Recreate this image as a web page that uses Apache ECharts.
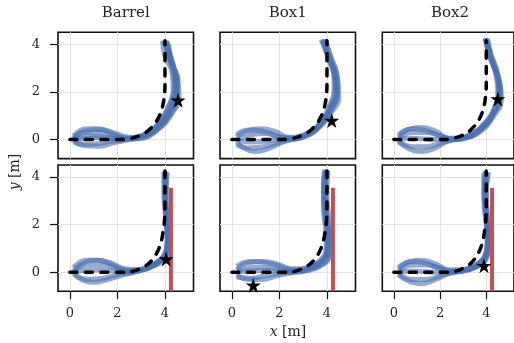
<!DOCTYPE html>
<html>
<head>
<meta charset="utf-8">
<script src="https://cdn.jsdelivr.net/npm/echarts@6/dist/echarts.min.js"></script>
<style>html,body{margin:0;padding:0;background:#fff;}#c{width:514px;height:343px;}</style>
</head>
<body>
<div id="c"></div>
<script>
// ---------- data ----------
const titles = ['Barrel', 'Box1', 'Box2'];
const xTicks = [0, 2, 4];
const yTicks = [0, 2, 4];
const xRange = [-0.5, 5.2];
const yRange = [-0.8, 4.5];

// reference paths (dashed)
const refTop = [[0,0],[2.2,0],[2.7,0.08],[3.2,0.3],[3.6,0.7],[3.85,1.2],[3.97,1.8],[4.0,2.3],[4.0,3.2],[4.0,4.15]];
const refBottom = [[0,0],[2.4,0],[2.9,0.12],[3.3,0.35],[3.6,0.7],[3.82,1.2],[3.95,1.9],[4.0,2.6],[4.0,3.4],[4.0,4.25]];

// executed trajectories (blue)
const trajBarrelTop = [
  [[0.15,0.05],[0.6,0.35],[1.2,0.42],[1.8,0.3],[2.5,0.1],[3.2,0.2],[3.8,0.6],[4.25,1.2],[4.5,1.9],[4.45,2.7],[4.2,3.4],[4.05,4.1]],
  [[0.15,-0.05],[0.6,-0.25],[1.2,-0.28],[1.8,-0.15],[2.5,0.0],[3.2,0.15],[3.8,0.5],[4.3,1.1],[4.6,1.8],[4.5,2.6],[4.25,3.3],[4.1,4.1]],
  [[0.2,0.1],[0.7,0.3],[1.3,0.3],[1.9,0.15],[2.5,0.05],[3.2,0.25],[3.7,0.65],[4.1,1.3],[4.35,2.0],[4.3,2.8],[4.0,3.5],[3.9,4.15]],
  [[0.2,-0.1],[0.7,-0.2],[1.3,-0.15],[1.9,-0.05],[2.6,0.05],[3.3,0.3],[3.85,0.8],[4.2,1.5],[4.4,2.3],[4.3,3.0],[4.1,3.7],[4.0,4.1]],
  [[0.1,0.0],[0.8,0.15],[1.5,0.1],[2.2,0.02],[2.9,0.1],[3.5,0.4],[4.0,0.95],[4.35,1.6],[4.5,2.4],[4.35,3.1],[4.15,3.8],[4.05,4.15]],
  [[0.15,0.15],[0.7,0.45],[1.2,0.45],[1.8,0.25],[2.4,0.05],[3.0,0.05],[3.6,0.35],[4.15,0.95],[4.5,1.7],[4.55,2.5],[4.3,3.2],[4.15,4.0]],
  [[0.15,0.0],[0.7,0.05],[1.3,0.08],[1.9,0.05],[2.6,0.02],[3.3,0.2],[3.9,0.7],[4.3,1.4],[4.45,2.1],[4.4,2.9],[4.15,3.6],[3.95,4.15]]
];
const trajBox1Top = [
  [[0.2,0.1],[0.6,0.35],[1.2,0.45],[1.8,0.35],[2.4,0.1],[3.0,0.2],[3.6,0.55],[4.1,1.2],[4.4,1.9],[4.35,2.6],[4.1,3.3],[3.85,4.2]],
  [[0.2,-0.1],[0.6,-0.4],[1.0,-0.5],[1.6,-0.35],[2.3,-0.05],[3.0,0.1],[3.6,0.45],[4.15,1.1],[4.5,1.8],[4.45,2.6],[4.2,3.3],[3.95,4.15]],
  [[0.25,0.0],[0.8,0.2],[1.4,0.25],[2.0,0.1],[2.6,0.05],[3.2,0.25],[3.75,0.7],[4.15,1.4],[4.35,2.2],[4.25,2.9],[4.0,3.6],[3.75,4.2]],
  [[0.2,-0.2],[0.7,-0.35],[1.3,-0.3],[1.9,-0.15],[2.5,0.0],[3.1,0.15],[3.7,0.55],[4.2,1.25],[4.45,2.0],[4.4,2.8],[4.15,3.5],[3.9,4.2]],
  [[0.2,0.2],[0.7,0.4],[1.3,0.35],[1.9,0.15],[2.5,0.05],[3.1,0.2],[3.65,0.6],[4.05,1.3],[4.3,2.1],[4.3,2.8],[4.05,3.5],[3.8,4.15]],
  [[0.2,0.0],[0.7,-0.1],[1.3,-0.08],[1.9,0.0],[2.5,0.02],[3.1,0.18],[3.7,0.6],[4.1,1.25],[4.4,2.0],[4.35,2.7],[4.1,3.4],[3.85,4.15]]
];
const trajBox2Top = [
  [[0.2,0.1],[0.7,0.45],[1.2,0.5],[1.8,0.35],[2.4,0.05],[3.1,0.1],[3.7,0.4],[4.25,1.0],[4.6,1.8],[4.5,2.6],[4.2,3.4],[4.0,4.2]],
  [[0.2,-0.1],[0.7,-0.4],[1.2,-0.5],[1.8,-0.35],[2.4,-0.05],[3.1,0.05],[3.75,0.35],[4.3,0.95],[4.65,1.7],[4.55,2.5],[4.25,3.3],[4.05,4.2]],
  [[0.25,0.05],[0.8,0.3],[1.4,0.3],[2.0,0.15],[2.6,0.0],[3.2,0.15],[3.8,0.55],[4.3,1.2],[4.5,2.0],[4.4,2.8],[4.15,3.5],[3.95,4.25]],
  [[0.2,-0.05],[0.8,-0.3],[1.4,-0.3],[2.0,-0.15],[2.6,0.0],[3.3,0.2],[3.85,0.6],[4.35,1.3],[4.55,2.1],[4.45,2.9],[4.2,3.6],[4.05,4.2]],
  [[0.2,0.2],[0.8,0.45],[1.3,0.4],[1.9,0.2],[2.5,0.02],[3.2,0.1],[3.8,0.45],[4.3,1.1],[4.55,1.9],[4.45,2.7],[4.15,3.5],[3.95,4.25]],
  [[0.2,0.0],[0.8,0.05],[1.4,0.02],[2.0,0.0],[2.6,0.0],[3.25,0.15],[3.85,0.5],[4.35,1.15],[4.6,1.95],[4.5,2.75],[4.2,3.5],[4.0,4.25]]
];
const trajBarrelBottom = [
  [[0.15,0.05],[0.6,0.4],[1.1,0.5],[1.7,0.4],[2.3,0.15],[2.9,0.1],[3.5,0.3],[3.95,0.7],[4.1,1.3],[4.05,2.2],[4.0,3.2],[4.0,4.2]],
  [[0.15,-0.05],[0.6,-0.35],[1.0,-0.42],[1.6,-0.3],[2.3,-0.1],[2.9,0.05],[3.5,0.25],[4.0,0.6],[4.15,1.2],[4.1,2.2],[4.05,3.2],[4.05,4.2]],
  [[0.2,0.1],[0.8,0.3],[1.4,0.3],[2.0,0.15],[2.6,0.05],[3.2,0.2],[3.7,0.45],[4.05,0.9],[4.1,1.6],[4.0,2.6],[3.95,3.5],[3.95,4.2]],
  [[0.2,-0.1],[0.8,-0.3],[1.4,-0.25],[2.0,-0.1],[2.6,0.0],[3.2,0.15],[3.75,0.4],[4.1,0.8],[4.15,1.5],[4.05,2.5],[4.0,3.4],[4.0,4.25]],
  [[0.15,0.2],[0.7,0.5],[1.2,0.5],[1.8,0.3],[2.4,0.08],[3.0,0.12],[3.6,0.35],[4.0,0.75],[4.1,1.4],[4.05,2.3],[4.05,3.3],[4.1,4.2]],
  [[0.15,0.0],[0.7,0.08],[1.3,0.1],[1.9,0.05],[2.5,0.02],[3.1,0.12],[3.65,0.4],[4.05,0.85],[4.12,1.5],[4.05,2.4],[4.0,3.3],[4.0,4.2]]
];
const trajBox1Bottom = [
  [[0.2,0.1],[0.7,0.4],[1.3,0.45],[1.9,0.35],[2.5,0.15],[3.1,0.15],[3.6,0.35],[3.95,0.75],[4.05,1.4],[3.95,2.4],[3.9,3.4],[3.95,4.3]],
  [[0.2,-0.1],[0.7,-0.3],[1.3,-0.3],[1.9,-0.15],[2.5,-0.02],[3.1,0.05],[3.7,0.25],[4.05,0.6],[4.1,1.3],[4.0,2.3],[3.95,3.3],[4.0,4.3]],
  [[0.25,0.05],[0.9,0.2],[1.5,0.2],[2.1,0.1],[2.7,0.05],[3.3,0.2],[3.8,0.5],[4.0,1.0],[3.95,1.8],[3.85,2.7],[3.85,3.6],[3.9,4.3]],
  [[0.2,-0.2],[0.8,-0.25],[1.4,-0.15],[2.0,-0.05],[2.6,0.0],[3.2,0.1],[3.75,0.3],[4.1,0.7],[4.15,1.5],[4.05,2.5],[4.0,3.4],[4.05,4.25]],
  [[0.2,0.25],[0.8,0.45],[1.4,0.4],[2.0,0.25],[2.6,0.1],[3.2,0.2],[3.7,0.5],[3.95,0.9],[4.0,1.6],[3.9,2.5],[3.85,3.4],[3.9,4.2]],
  [[0.2,0.0],[0.8,0.05],[1.4,0.08],[2.0,0.05],[2.6,0.03],[3.2,0.15],[3.75,0.4],[4.05,0.8],[4.08,1.5],[3.98,2.4],[3.92,3.4],[3.95,4.25]]
];
const trajBox2Bottom = [
  [[0.2,0.1],[0.7,0.45],[1.2,0.5],[1.8,0.35],[2.4,0.1],[3.0,0.1],[3.5,0.25],[3.9,0.6],[4.05,1.3],[4.0,2.3],[3.95,3.3],[4.0,4.2]],
  [[0.2,-0.1],[0.7,-0.4],[1.2,-0.48],[1.8,-0.3],[2.4,-0.05],[3.0,0.05],[3.5,0.2],[3.95,0.5],[4.1,1.2],[4.05,2.2],[4.0,3.2],[4.05,4.2]],
  [[0.25,0.05],[0.8,0.3],[1.4,0.3],[2.0,0.15],[2.6,0.02],[3.2,0.15],[3.7,0.4],[4.0,0.85],[4.05,1.6],[3.95,2.5],[3.9,3.4],[3.95,4.25]],
  [[0.2,-0.05],[0.8,-0.3],[1.4,-0.3],[2.0,-0.15],[2.6,0.0],[3.2,0.1],[3.7,0.3],[4.05,0.7],[4.15,1.4],[4.05,2.4],[4.0,3.3],[4.1,4.2]],
  [[0.2,0.2],[0.8,0.45],[1.3,0.4],[1.9,0.2],[2.5,0.05],[3.1,0.12],[3.6,0.35],[3.95,0.7],[4.05,1.5],[3.95,2.4],[3.9,3.3],[3.9,4.15]],
  [[0.2,0.0],[0.8,0.05],[1.4,0.02],[2.0,0.0],[2.6,0.01],[3.2,0.12],[3.7,0.35],[4.0,0.75],[4.08,1.45],[4.0,2.4],[3.95,3.3],[4.0,4.2]]
];

// stars (final/goal markers), per panel
const starPoints = [[4.55,1.65],[4.2,0.8],[4.5,1.7],[4.05,0.55],[0.9,-0.55],[3.9,0.27]];
// obstacle (bottom row)
const obstacleX = 4.25;
const obstacleY = [-0.8, 3.55];

// ---------- layout ----------
const panels = [
  {traj: trajBarrelTop, ref: refTop, row: 0, col: 0},
  {traj: trajBox1Top, ref: refTop, row: 0, col: 1},
  {traj: trajBox2Top, ref: refTop, row: 0, col: 2},
  {traj: trajBarrelBottom, ref: refBottom, row: 1, col: 0},
  {traj: trajBox1Bottom, ref: refBottom, row: 1, col: 1},
  {traj: trajBox2Bottom, ref: refBottom, row: 1, col: 2}
];
const colLeft = [58, 220, 382.3];
const rowTop = [32.3, 165];
const PW = 135.5, PH = 126.3;
const FONT = 'DejaVu Serif';
const TXT = '#262626';
const STAR = 'path://M50,0 L61.2,34.5 L97.6,34.5 L68.2,55.9 L79.4,90.5 L50,69.1 L20.6,90.5 L31.8,55.9 L2.4,34.5 L38.8,34.5 Z';

const option = {
  animation: false,
  backgroundColor: '#fff',
  grid: [], xAxis: [], yAxis: [], series: [], graphic: []
};

panels.forEach((p, i) => {
  option.grid.push({
    left: colLeft[p.col], top: rowTop[p.row], width: PW, height: PH,
    show: true, borderColor: '#111', borderWidth: 1.6, backgroundColor: 'transparent',
    containLabel: false
  });
  option.xAxis.push({
    gridIndex: i, type: 'value', min: xRange[0], max: xRange[1], position: 'bottom',
    axisLine: {show: false, onZero: false},
    axisTick: {show: p.row === 1, customValues: xTicks, length: 8, inside: false, lineStyle: {color: '#111', width: 1.2}},
    axisLabel: {show: p.row === 1, customValues: xTicks, margin: 16, fontFamily: FONT, fontSize: 13, color: TXT},
    splitLine: {show: true, lineStyle: {color: '#e3e3e3', width: 1}}
  });
  option.yAxis.push({
    gridIndex: i, type: 'value', min: yRange[0], max: yRange[1], position: 'left',
    axisLine: {show: false, onZero: false},
    axisTick: {show: p.col === 0, customValues: yTicks, length: 8, inside: false, lineStyle: {color: '#111', width: 1.2}},
    axisLabel: {show: p.col === 0, customValues: yTicks, margin: 18, fontFamily: FONT, fontSize: 13, color: TXT},
    splitLine: {show: true, lineStyle: {color: '#e3e3e3', width: 1}}
  });
  p.traj.forEach(t => {
    option.series.push({
      type: 'line', xAxisIndex: i, yAxisIndex: i, data: t, showSymbol: false, smooth: 0.5,
      lineStyle: {color: '#4c72b0', width: 5, opacity: 0.6}, z: 2, silent: true
    });
  });
  option.series.push({
    type: 'line', xAxisIndex: i, yAxisIndex: i, data: p.ref, showSymbol: false, smooth: 0.3,
    lineStyle: {color: '#000', width: 3.5, type: [7, 8.5], cap: 'round'}, z: 3, silent: true
  });
  if (p.row === 1) {
    option.series.push({
      type: 'line', xAxisIndex: i, yAxisIndex: i,
      data: obstacleY.map(y => [obstacleX, y]), showSymbol: false,
      lineStyle: {color: '#c44e52', width: 4}, z: 4, silent: true
    });
  }
  option.series.push({
    type: 'scatter', xAxisIndex: i, yAxisIndex: i, data: [starPoints[i]],
    symbol: STAR, symbolSize: 15, itemStyle: {color: '#000', opacity: 1}, z: 5, silent: true
  });
  if (p.row === 0) {
    option.graphic.push({
      type: 'text', x: colLeft[p.col] + PW / 2, y: 13,
      style: {text: titles[p.col], fontFamily: FONT, fontSize: 15, fill: TXT, align: 'center', verticalAlign: 'middle'}
    });
  }
});

option.graphic.push({
  type: 'text', x: 288, y: 332,
  style: {text: '{i|x} [m]', fontFamily: FONT, fontSize: 14, fill: TXT, align: 'center', verticalAlign: 'middle',
    rich: {i: {fontStyle: 'italic', fontFamily: FONT, fontSize: 14, fill: TXT}}}
});
option.graphic.push({
  type: 'text', x: 15, y: 172, rotation: Math.PI / 2,
  style: {text: '{i|y} [m]', fontFamily: FONT, fontSize: 14, fill: TXT, align: 'center', verticalAlign: 'middle',
    rich: {i: {fontStyle: 'italic', fontFamily: FONT, fontSize: 14, fill: TXT}}}
});

const chart = echarts.init(document.getElementById('c'), null, {renderer: 'canvas'});
chart.setOption(option);
</script>
</body>
</html>
